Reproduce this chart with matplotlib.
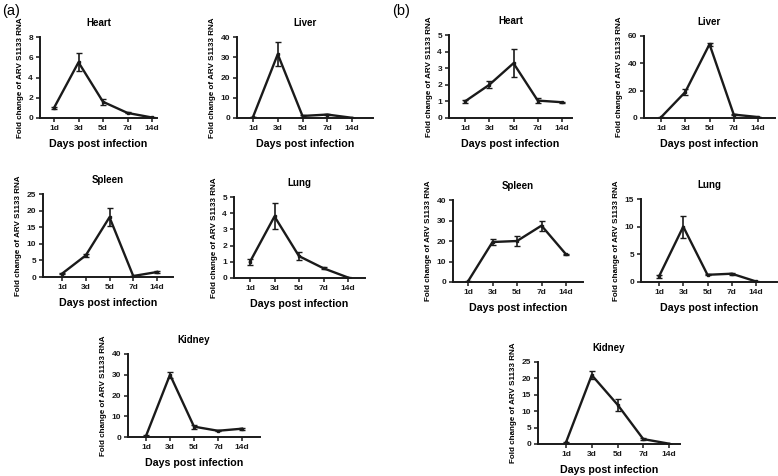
import matplotlib
matplotlib.use("Agg")
import matplotlib.pyplot as plt

plt.rcParams["font.family"] = ["Liberation Sans", "DejaVu Sans"]

days = ["1d", "3d", "5d", "7d", "14d"]
ylabel = "Fold change of ARV S1133 RNA"
xlabel = "Days post infection"

# panel (a)
a_heart = [1.0, 5.5, 1.6, 0.5, 0.05]
a_heart_err = [0.1, 0.9, 0.3, 0.05, 0.02]
a_liver = [0.5, 31.5, 1.0, 1.7, 0.1]
a_liver_err = [0.2, 6.0, 0.3, 0.3, 0.05]
a_spleen = [1.0, 6.5, 18.0, 0.3, 1.5]
a_spleen_err = [0.1, 0.5, 2.7, 0.1, 0.2]
a_lung = [1.0, 3.8, 1.35, 0.6, 0.03]
a_lung_err = [0.2, 0.8, 0.25, 0.05, 0.02]
a_kidney = [0.5, 30.0, 5.0, 3.0, 4.0]
a_kidney_err = [0.3, 1.5, 1.0, 0.3, 0.5]

# panel (b)
b_heart = [1.0, 2.0, 3.3, 1.05, 0.95]
b_heart_err = [0.1, 0.2, 0.85, 0.15, 0.03]
b_liver = [0.5, 19.0, 54.0, 2.5, 0.7]
b_liver_err = [0.3, 2.5, 1.0, 0.3, 0.2]
b_spleen = [0.3, 19.5, 20.0, 27.5, 13.5]
b_spleen_err = [0.2, 1.5, 2.5, 2.5, 0.3]
b_lung = [1.0, 10.0, 1.3, 1.5, 0.1]
b_lung_err = [0.2, 2.0, 0.1, 0.2, 0.05]
b_kidney = [0.5, 21.0, 12.0, 1.5, 0.1]
b_kidney_err = [0.2, 1.3, 1.8, 0.2, 0.05]

W, H = 778, 476
fig = plt.figure(figsize=(W / 100, H / 100), dpi=100)

# (title, values, errors, ymax, ystep, pixel box: left, top, right, bottom, first tick px, last tick px)
panels = [
    ("Heart", a_heart, a_heart_err, 8, 2, (40, 37, 157, 118, 54, 152)),
    ("Liver", a_liver, a_liver_err, 40, 10, (237, 37, 373, 118, 253, 352)),
    ("Spleen", a_spleen, a_spleen_err, 25, 5, (43, 194, 173, 277, 62, 157)),
    ("Lung", a_lung, a_lung_err, 5, 1, (234, 197, 365, 278, 250, 348)),
    ("Kidney", a_kidney, a_kidney_err, 40, 10, (128, 354, 260, 437, 146, 242)),
    ("Heart", b_heart, b_heart_err, 5, 1, (449, 35, 572, 118, 465, 562)),
    ("Liver", b_liver, b_liver_err, 60, 20, (644, 36, 775, 118, 661, 758)),
    ("Spleen", b_spleen, b_spleen_err, 40, 10, (453, 200, 583, 282, 468, 566)),
    ("Lung", b_lung, b_lung_err, 15, 5, (641, 199, 777, 282, 659, 756)),
    ("Kidney", b_kidney, b_kidney_err, 25, 5, (538, 362, 680, 444, 566, 669)),
]

for title, vals, errs, ymax, ystep, box in panels:
    left, top, right, bottom, p0, p4 = box
    ax = fig.add_axes([left / W, 1 - bottom / H, (right - left) / W, (bottom - top) / H])
    x = list(range(len(days)))
    ax.errorbar(x, vals, yerr=errs, color="#1a1a1a", lw=1.7, marker="s", ms=2,
                capsize=2, elinewidth=1.2, capthick=1.0)
    unit = (p4 - p0) / 4
    ax.set_xlim((left - p0) / unit, (right - p0) / unit)
    ax.set_ylim(0, ymax)
    ax.set_yticks(range(0, ymax + 1, ystep))
    ax.set_xticks(x)
    ax.set_xticklabels(days)
    for s in ("top", "right"):
        ax.spines[s].set_visible(False)
    for s in ("left", "bottom"):
        ax.spines[s].set_linewidth(1.4)
        ax.spines[s].set_color("#1a1a1a")
    ax.tick_params(length=3, width=1.1, labelsize=6, pad=2, colors="#1a1a1a")
    for lbl in ax.get_xticklabels() + ax.get_yticklabels():
        lbl.set_fontweight("bold")
    ax.set_title(title, fontsize=7, fontweight="bold", pad=8)
    ax.set_xlabel(xlabel, fontsize=7.7, fontweight="bold", labelpad=5)
    ax.set_ylabel(ylabel, fontsize=5.8, fontweight="bold", labelpad=3)

fig.text(2 / W, 1 - 11 / H, "(a)", fontsize=10.5, va="center")
fig.text(392 / W, 1 - 11 / H, "(b)", fontsize=10.5, va="center")

fig.savefig("out.png", dpi=100)
